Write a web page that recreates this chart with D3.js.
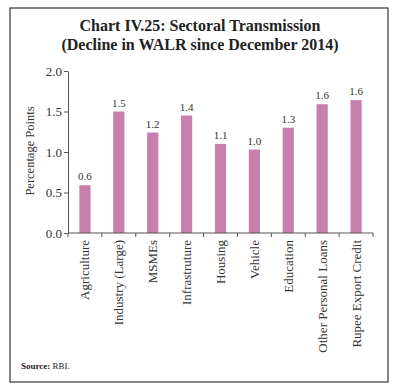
<!DOCTYPE html>
<html><head><meta charset="utf-8">
<script src="https://cdn.jsdelivr.net/npm/d3@7"></script>
<style>body{margin:0;background:#fff}svg{display:block}</style>
</head><body>
<script>
const categories = ["Agriculture","Industry (Large)","MSMEs","Infrastruture","Housing","Vehicle","Education","Other Personal Loans","Rupee Export Credit"];
const values = [0.59,1.50,1.24,1.45,1.10,1.03,1.30,1.59,1.64];
const valueLabels = ["0.6","1.5","1.2","1.4","1.1","1.0","1.3","1.6","1.6"];
const yTicks = [0,0.5,1.0,1.5,2.0];
const titleLines = ["Chart IV.25: Sectoral Transmission","(Decline in WALR since December 2014)"];

const W=400,H=390;
const font="'Liberation Serif', serif";
const svg=d3.select("body").append("svg").attr("width",W).attr("height",H);
svg.append("rect").attr("x",10).attr("y",8).attr("width",378).attr("height",374)
  .attr("fill","#fff").attr("stroke","#444").attr("stroke-width",1.3);

svg.selectAll("text.title").data(titleLines).enter().append("text")
  .attr("x",200).attr("y",(d,i)=>31+i*18.5).attr("text-anchor","middle")
  .attr("font-family",font).attr("font-weight","bold").attr("font-size",16).attr("fill","#222").text(d=>d);

const x=d3.scaleBand().domain(categories).range([68,373]).paddingInner(0.67).paddingOuter(0.335);
const y=d3.scaleLinear().domain([0,2]).range([233,71]);

const ya=svg.append("g").attr("transform","translate(68,0)")
  .call(d3.axisLeft(y).tickValues(yTicks).tickFormat(d3.format(".1f")).tickSize(4).tickSizeOuter(0));
ya.select(".domain").attr("stroke","#555");
ya.selectAll(".tick line").attr("stroke","#555");
ya.selectAll(".tick text").attr("font-family",font).attr("font-size",13).attr("fill","#333").attr("dy","0.33em").attr("x",-6);

svg.selectAll("rect.bar").data(values).enter().append("rect")
  .attr("x",(d,i)=>x(categories[i])).attr("width",x.bandwidth())
  .attr("y",d=>y(d)).attr("height",d=>y(0)-y(d)).attr("fill","#c77fab");

svg.selectAll("text.vl").data(values).enter().append("text")
  .attr("x",(d,i)=>x(categories[i])+x.bandwidth()/2).attr("y",d=>y(d)-5)
  .attr("text-anchor","middle").attr("font-family",font).attr("font-size",11).attr("fill","#333")
  .text((d,i)=>valueLabels[i]);

const xa=svg.append("g").attr("transform","translate(0,233)");
xa.append("line").attr("x1",68).attr("x2",373).attr("stroke","#555");
xa.selectAll("line.t").data(d3.range(categories.length+1)).enter().append("line")
  .attr("x1",i=>68+i*(305/categories.length)).attr("x2",i=>68+i*(305/categories.length))
  .attr("y1",0).attr("y2",4).attr("stroke","#555");
xa.selectAll("text").data(categories).enter().append("text")
  .attr("transform",d=>`translate(${x(d)+x.bandwidth()/2+4.5},7) rotate(-90)`)
  .attr("text-anchor","end").attr("font-family",font).attr("font-size",13).attr("fill","#333").text(d=>d);

svg.append("text").attr("transform","translate(34,151) rotate(-90)").attr("text-anchor","middle")
  .attr("font-family",font).attr("font-size",12.5).attr("fill","#333").text("Percentage Points");

const src=svg.append("text").attr("x",21).attr("y",369).attr("font-family",font).attr("font-size",9).attr("fill","#222");
src.append("tspan").attr("font-weight","bold").text("Source: ");
src.append("tspan").text("RBI.");
</script>
</body></html>
